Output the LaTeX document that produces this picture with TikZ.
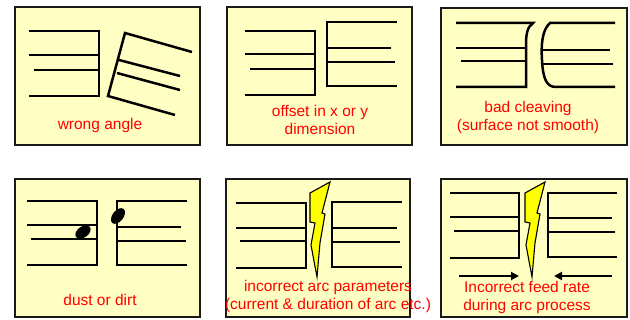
\documentclass[tikz,border=0pt]{standalone}
\usepackage{fontspec}
\setmainfont{Liberation Sans}
\usepackage{tikz}
\usetikzlibrary{arrows.meta}
\definecolor{cpanel}{HTML}{FFFFC4}
\definecolor{cred}{HTML}{FF0000}
\definecolor{cbolt}{HTML}{FFFF00}
\definecolor{cdark}{HTML}{1A1A1A}
\tikzset{
  panel/.style={draw=cdark, fill=cpanel, line width=1.8pt},
  fiber/.style={draw=black, line width=2.5pt},
  bolt/.style={draw=black, fill=cbolt, line width=1.1pt, line join=miter},
  caption/.style={text=cred, font=\fontsize{15.5}{18.5}\selectfont, align=center},
  push/.style={draw=black, line width=1.8pt, -{Triangle[length=8pt, width=8pt]}},
}

\begin{document}
\begin{tikzpicture}[x=1pt, y=-1pt]
\useasboundingbox (0,0) rectangle (630,320);

% the six panels
\draw[panel] (15,7) rectangle (200,145);
\draw[panel] (227,7) rectangle (412,145);
\draw[panel] (441,8) rectangle (627,145);
\draw[panel] (15,179) rectangle (200,317);
\draw[panel] (226,179) rectangle (410,317);
\draw[panel] (441,179) rectangle (627,317);

% wrong angle
\draw[fiber] (29,31) -- (99,31) -- (99,96) -- (29,96);
\draw[fiber] (29,55) -- (99,55);
\draw[fiber] (34,70) -- (99,70);
\draw[fiber] (192,52) -- (125,33) -- (108,96) -- (175,115);
\draw[fiber] (119,60) -- (180,76);
\draw[fiber] (117,73) -- (180,90);
\node[caption] (angletxt) at (100,125) {wrong angle};

% offset
\draw[fiber] (245,31) -- (315,31) -- (315,95) -- (245,95);
\draw[fiber] (245,54) -- (315,54);
\draw[fiber] (250,69) -- (315,69);
\draw[fiber] (397,22) -- (327,22) -- (327,86) -- (397,86);
\draw[fiber] (327,48) -- (391,48);
\draw[fiber] (327,62) -- (395,62);
\node[caption] (offsettxt) at (320,120) {offset in x or y\\dimension};

% bad cleaving
\draw[fiber] (456,23) -- (533,23) .. controls (527,27) and (526,35) .. (526,45) -- (526,87) -- (456,87);
\draw[fiber] (456,48) -- (526,48);
\draw[fiber] (461,61) -- (526,61);
\draw[fiber] (615,23) -- (550,23) .. controls (542,30) and (541,45) .. (542,60)
  .. controls (543,80) and (547,87) .. (556,87) -- (615,87);
\draw[fiber] (542,50) -- (610,50);
\draw[fiber] (542,64) -- (613,64);
\node[caption] (cleavetxt) at (528,117.5) {bad cleaving\\(surface not smooth)};

% dust or dirt
\draw[fiber] (27,201) -- (97,201) -- (97,265) -- (27,265);
\draw[fiber] (27,225) -- (97,225);
\draw[fiber] (31,239) -- (97,239);
\draw[fiber] (187,201) -- (117,201) -- (117,265) -- (187,265);
\draw[fiber] (117,227) -- (181,227);
\draw[fiber] (117,241) -- (186,241);
\fill[black, rotate around={35:(83,232)}] (83,232) ellipse [x radius=8.5, y radius=5.5];
\fill[black, rotate around={52:(118,216)}] (118,216) ellipse [x radius=9, y radius=5.5];
\node[caption] (dusttxt) at (100,300) {dust or dirt};

% arc parameters
\draw[fiber] (236,203) -- (306,203) -- (306,268) -- (236,268);
\draw[fiber] (236,228) -- (306,228);
\draw[fiber] (240,241) -- (306,241);
\draw[fiber] (402,202) -- (332,202) -- (332,267) -- (402,267);
\draw[fiber] (332,228) -- (397,228);
\draw[fiber] (332,242) -- (400,242);

% feed rate
\draw[fiber] (450,193) -- (519,193) -- (519,258) -- (450,258);
\draw[fiber] (450,217) -- (519,217);
\draw[fiber] (454,231) -- (519,231);
\draw[fiber] (617,193) -- (548,193) -- (548,257) -- (617,257);
\draw[fiber] (548,218) -- (612,218);
\draw[fiber] (548,232) -- (615,232);

% lightning
\foreach \bx in {310,525}
  \filldraw[bolt, shift={(\bx,193)}] (0,0) -- (20,-11) -- (12,20) -- (15,21) -- (10,50)
    -- (7,84) -- (1,52) -- (5,30) -- (0,29) -- cycle;

\node[caption] (arctxt) at (328,296.5) {incorrect arc parameters\\(current \& duration of arc etc.)};

\coordinate (pushL) at (459,276);
\coordinate (gapL) at (519,276);
\coordinate (pushR) at (612,276);
\coordinate (gapR) at (554,276);
\draw[push] (pushL) -- (gapL);
\draw[push] (pushR) -- (gapR);
\node[caption] (feedtxt) at (527,297.5) {Incorrect feed rate\\during arc process};

\end{tikzpicture}
\end{document}
